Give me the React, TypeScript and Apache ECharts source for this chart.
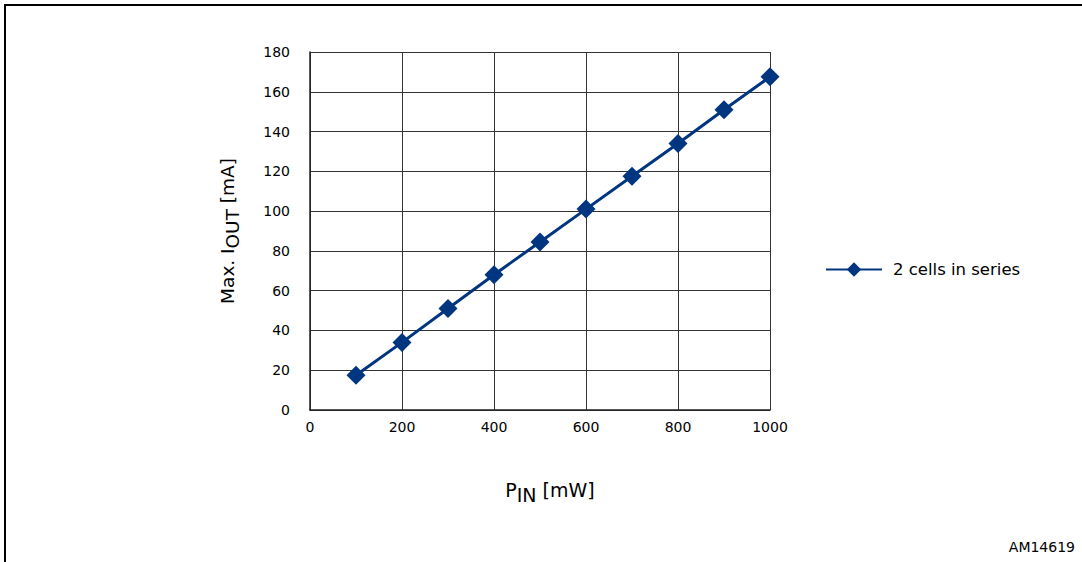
import React, { useEffect, useRef } from "react";
import * as echarts from "echarts";

const pinMw = [100, 200, 300, 400, 500, 600, 700, 800, 900, 1000];
const maxIout = [17.5, 34, 51, 68, 84.5, 101, 117.5, 134, 151, 167.5];
const seriesName = "2 cells in series";
const figureId = "AM14619";

export default function App() {
  const ref = useRef<HTMLDivElement>(null);
  useEffect(() => {
    if (!ref.current) return;
    const chart = echarts.init(ref.current, undefined, { renderer: "svg" });
    const font = "DejaVu Sans, Verdana, sans-serif";
    const mkRich = (size: number, lead: number) => ({
      p: { fontSize: size, lineHeight: 20, verticalAlign: "top", padding: [0, 0, 0, lead], color: "#000", fontFamily: font },
      a: { fontSize: size, lineHeight: 20, verticalAlign: "top", color: "#000", fontFamily: font },
      s: { fontSize: size, lineHeight: 20, verticalAlign: "top", padding: [5, 0, 0, 0], color: "#000", fontFamily: font },
    });
    chart.setOption({
      animation: false,
      textStyle: { fontFamily: font },
      grid: { left: 310, right: 312, top: 52, bottom: 152, containLabel: false },
      legend: {
        left: 820,
        top: 256,
        itemWidth: 56,
        itemHeight: 18,
        textStyle: { fontSize: 16.5, color: "#000", padding: [0, 0, 0, 6], fontFamily: font },
        data: [seriesName],
      },
      xAxis: {
        type: "value",
        min: 0,
        max: 1000,
        interval: 200,
        name: "{p|P}{s|IN}{a| [mW]}",
        nameLocation: "middle",
        nameGap: 70,
        nameTextStyle: { rich: mkRich(19, 20) },
        axisLine: { lineStyle: { color: "#222", width: 1.5 } },
        axisTick: { show: false },
        axisLabel: { fontSize: 14, color: "#000", margin: 10, formatter: (v: number) => String(v) },
        splitLine: { lineStyle: { color: "#333", width: 1 } },
      },
      yAxis: {
        type: "value",
        min: 0,
        max: 180,
        interval: 20,
        name: "{a|Max. I}{s|OUT}{a| [mA]}",
        nameLocation: "middle",
        nameRotate: 90,
        nameGap: 72,
        nameTextStyle: { rich: mkRich(18.5, 0) },
        axisLine: { show: true, lineStyle: { color: "#222", width: 1.5 } },
        axisTick: { show: false },
        axisLabel: { fontSize: 14, color: "#000", margin: 20 },
        splitLine: { lineStyle: { color: "#333", width: 1 } },
      },
      series: [
        {
          name: seriesName,
          type: "line",
          data: pinMw.map((x, i) => [x, maxIout[i]]),
          symbol: "diamond",
          symbolSize: 19,
          lineStyle: { color: "#003580", width: 3 },
          itemStyle: { color: "#003580" },
        },
      ],
      graphic: [
        { type: "line", shape: { x1: 5, y1: 5, x2: 1082, y2: 5 }, style: { stroke: "#000", lineWidth: 2 } },
        { type: "line", shape: { x1: 5, y1: 4, x2: 5, y2: 562 }, style: { stroke: "#000", lineWidth: 2 } },
        {
          type: "text",
          right: 7,
          top: 540,
          style: { text: figureId, fontSize: 14, fill: "#000", fontFamily: font },
        },
      ],
    });
    return () => chart.dispose();
  }, []);
  return (
    <div
      ref={ref}
      style={{ position: "fixed", left: 0, top: 0, width: 1082, height: 562, background: "#fff" }}
    />
  );
}
